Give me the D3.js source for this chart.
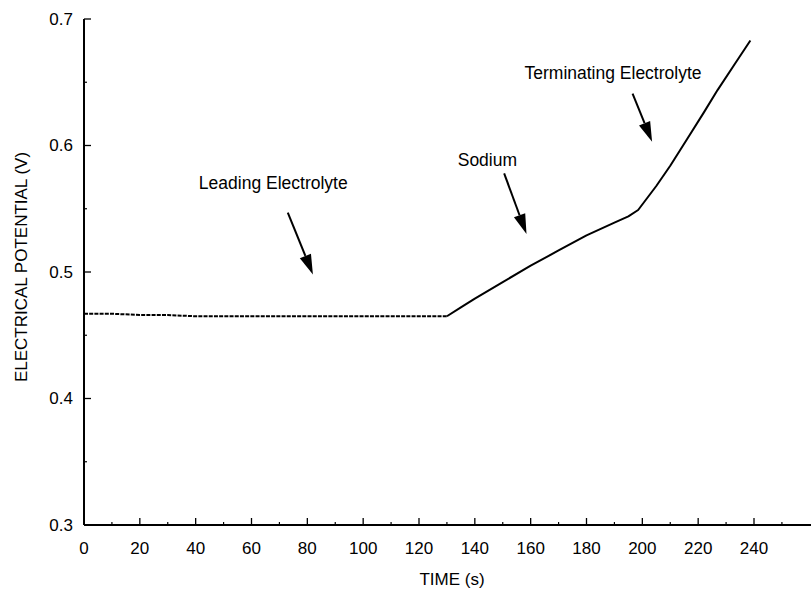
<!DOCTYPE html>
<html>
<head>
<meta charset="utf-8">
<script src="https://cdn.jsdelivr.net/npm/d3@7"></script>
<style>
  body { margin: 0; background: #fff; }
  text { font-family: Arial, "Liberation Sans", sans-serif; fill: #000; }
</style>
</head>
<body>
<div id="chart"></div>
<script>
// trace: time (s) and potential (V)
const leadTime = [0, 10, 20, 30, 40, 50, 60, 70, 80, 90, 100, 110, 120, 130];
const leadVolt = [0.467, 0.467, 0.466, 0.466, 0.465, 0.465, 0.465, 0.465, 0.465, 0.465, 0.465, 0.465, 0.465, 0.465];
const riseTime = [130, 135, 140, 150, 160, 170, 180, 190, 195, 198.5, 205, 210, 216, 222, 227, 233, 238.7];
const riseVolt = [0.465, 0.472, 0.479, 0.492, 0.505, 0.517, 0.529, 0.539, 0.544, 0.549, 0.568, 0.584, 0.605, 0.626, 0.644, 0.664, 0.683];

const xTicks = [0, 20, 40, 60, 80, 100, 120, 140, 160, 180, 200, 220, 240];
const yTicks = [0.3, 0.4, 0.5, 0.6, 0.7];

// annotation labels and arrows (in data units)
const labels = ["Leading Electrolyte", "Sodium", "Terminating Electrolyte"];
const labelAt = [[67.8, 0.5656], [144.5, 0.5838], [189.5, 0.6526]];
const arrowFrom = [[73, 0.547], [150.5, 0.578], [196.5, 0.641]];
const arrowTo = [[82, 0.498], [158.5, 0.530], [203.5, 0.603]];

const W = 811, H = 592;
const svg = d3.select("#chart").append("svg")
  .attr("width", W).attr("height", H);

const x = d3.scaleLinear().domain([0, 240]).range([84, 754]);
const y = d3.scaleLinear().domain([0.3, 0.7]).range([525, 19]);

// axes
const xAxis = svg.append("g").attr("transform", `translate(0,${y(0.3)})`);
xAxis.append("line").attr("x1", x(0)).attr("x2", W).attr("stroke", "#000").attr("stroke-width", 2);
xAxis.selectAll(".maj").data(xTicks).join("line")
  .attr("x1", d => x(d)).attr("x2", d => x(d)).attr("y1", 0).attr("y2", -7)
  .attr("stroke", "#000").attr("stroke-width", 1.3);
xAxis.selectAll(".min").data(d3.range(10, 260, 20)).join("line")
  .attr("x1", d => x(d)).attr("x2", d => x(d)).attr("y1", 0).attr("y2", -3)
  .attr("stroke", "#000").attr("stroke-width", 1.2);
xAxis.selectAll("text").data(xTicks).join("text")
  .attr("x", d => x(d)).attr("y", 29)
  .attr("text-anchor", "middle").style("font-size", "17px")
  .text(d => d);

const yAxis = svg.append("g").attr("transform", `translate(${x(0)},0)`);
yAxis.append("line").attr("y1", y(0.7)).attr("y2", y(0.3)).attr("stroke", "#000").attr("stroke-width", 2);
yAxis.selectAll(".maj").data(yTicks).join("line")
  .attr("y1", d => y(d)).attr("y2", d => y(d)).attr("x1", 0).attr("x2", 7)
  .attr("stroke", "#000").attr("stroke-width", 1.3);
yAxis.selectAll(".min").data([0.35, 0.45, 0.55, 0.65]).join("line")
  .attr("y1", d => y(d)).attr("y2", d => y(d)).attr("x1", 0).attr("x2", 3)
  .attr("stroke", "#000").attr("stroke-width", 1.2);
yAxis.selectAll("text").data(yTicks).join("text")
  .attr("x", -11).attr("y", d => y(d)).attr("dy", "0.35em")
  .attr("text-anchor", "end").style("font-size", "17px")
  .text(d => d.toFixed(1));

svg.append("text").attr("x", 452).attr("y", 585)
  .attr("text-anchor", "middle").style("font-size", "17px").text("TIME (s)");
svg.append("text")
  .attr("transform", `translate(27,${267}) rotate(-90)`)
  .attr("text-anchor", "middle").style("font-size", "17px")
  .text("ELECTRICAL POTENTIAL (V)");

// trace
const line = d3.line().x(d => x(d[0])).y(d => y(d[1]));
svg.append("path")
  .datum([[0, 0.3], [0, leadVolt[0]]])
  .attr("d", line).attr("fill", "none").attr("stroke", "#000").attr("stroke-width", 1.5);
svg.append("path")
  .datum(d3.zip(leadTime, leadVolt))
  .attr("d", line).attr("fill", "none").attr("stroke", "#000")
  .attr("stroke-width", 2).attr("stroke-dasharray", "4,1.2");
svg.append("path")
  .datum(d3.zip(riseTime, riseVolt))
  .attr("d", line).attr("fill", "none").attr("stroke", "#000")
  .attr("stroke-width", 2).attr("stroke-linejoin", "round");

// annotations
svg.selectAll(".lab").data(labels).join("text")
  .attr("x", (d, i) => x(labelAt[i][0])).attr("y", (d, i) => y(labelAt[i][1]))
  .attr("text-anchor", "middle").style("font-size", "17.5px")
  .text(d => d);

labels.forEach((l, i) => {
  const x1 = x(arrowFrom[i][0]), y1 = y(arrowFrom[i][1]);
  const x2 = x(arrowTo[i][0]), y2 = y(arrowTo[i][1]);
  const a = Math.atan2(y2 - y1, x2 - x1);
  const len = 20, hw = 6;
  const bx = x2 - len * Math.cos(a), by = y2 - len * Math.sin(a);
  svg.append("line").attr("x1", x1).attr("y1", y1).attr("x2", bx).attr("y2", by)
    .attr("stroke", "#000").attr("stroke-width", 2);
  svg.append("path")
    .attr("d", `M${x2},${y2}L${bx + hw * Math.sin(a)},${by - hw * Math.cos(a)}L${bx - hw * Math.sin(a)},${by + hw * Math.cos(a)}Z`)
    .attr("fill", "#000");
});
</script>
</body>
</html>
